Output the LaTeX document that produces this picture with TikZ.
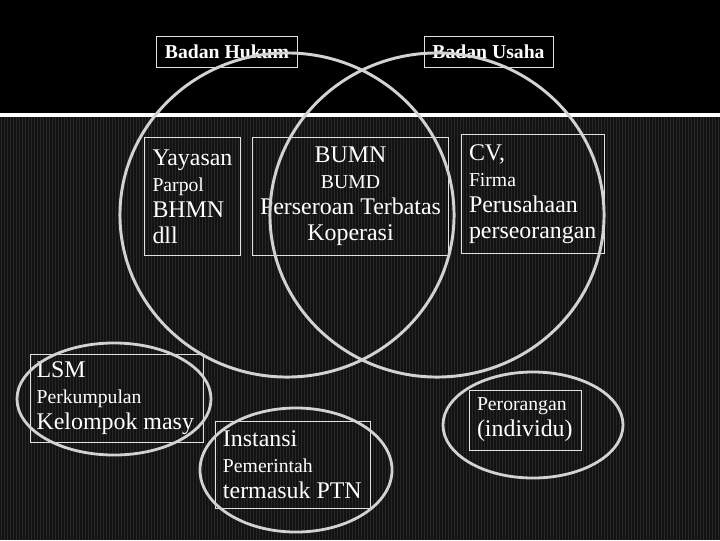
\documentclass[tikz,border=0pt]{standalone}
\usepackage{fontspec}
\setmainfont{Liberation Serif}
\usetikzlibrary{shapes.geometric}
\definecolor{linegray}{RGB}{210,210,210}
\definecolor{boxgray}{RGB}{225,225,225}
\definecolor{stripegray}{RGB}{18,18,18}
\definecolor{stripelight}{RGB}{38,38,38}
\newcommand{\bigtxt}{\fontsize{17}{18.5}\selectfont}
\newcommand{\smalltxt}{\fontsize{14}{18.5}\selectfont}

\begin{document}
\begin{tikzpicture}[x=0.025cm,y=-0.025cm,
	title_box/.style={rectangle,draw=boxgray,line width=0.7pt,text=white,font=\fontsize{14}{16}\selectfont\bfseries,minimum height=0.775cm,inner sep=0pt},
	item_box/.style={rectangle,draw=boxgray,line width=0.7pt,text=white,font=\bigtxt,align=flush left,inner xsep=3pt,inner ysep=0pt},
	big_circle/.style={ellipse,draw=linegray,line width=2.1pt,minimum width=8.35cm,minimum height=8.1cm,inner sep=0pt},
	small_oval/.style={ellipse,draw=linegray,line width=2pt,inner sep=0pt}]

		\useasboundingbox (0,0) rectangle (720,540);
		\fill[black] (0,0) rectangle (720,540);
		\fill[stripegray] (0,117) rectangle (720,540);
		\foreach \sx in {1,4,...,720}
			\draw[stripelight,line width=0.4pt] (\sx,117) -- (\sx,540);
		\fill[white] (0,113) rectangle (720,117);

		\node[title_box,minimum width=3.5cm] (hukum) at (227,51.5) {Badan Hukum};
		\node[title_box,minimum width=3.225cm] (usaha) at (488.5,51.5) {Badan Usaha};

		\node[item_box,text width=2.21cm,minimum height=2.925cm] (yayasan) at (192.5,196.5) {\hspace{3pt}Yayasan\\\hspace{3pt}{\smalltxt Parpol}\\\hspace{3pt}BHMN\\\hspace{3pt}dll};
		\node[item_box,text width=4.71cm,align=flush center,minimum height=2.925cm] (bumn) at (350.5,196.5) {BUMN\\{\smalltxt BUMD}\\Perseroan Terbatas\\Koperasi};
		\node[item_box,text width=3.34cm,minimum height=2.95cm] (cv) at (533,194) {\hspace{2pt}CV,\\\hspace{2pt}{\smalltxt Firma}\\\hspace{2pt}Perusahaan\\\hspace{2pt}perseorangan};
		\node[item_box,text width=4.09cm,minimum height=2.2cm] (lsm) at (117,398) {\hspace{1pt}LSM\\\hspace{1pt}{\smalltxt Perkumpulan}\\\hspace{1pt}Kelompok masy};
		\node[item_box,text width=3.64cm,minimum height=2.175cm] (instansi) at (293,464.5) {\hspace{2pt}Instansi\\\hspace{2pt}{\smalltxt Pemerintah}\\\hspace{2pt}termasuk PTN};
		\node[item_box,text width=2.565cm,minimum height=1.5cm] (perorangan) at (525.5,420) {\hspace{2pt}{\smalltxt Perorangan}\\\hspace{2pt}(individu)};

		\node[big_circle] (hukumcircle) at (287,215) {};
		\node[big_circle] (usahacircle) at (437,215) {};
		\node[small_oval,minimum width=4.85cm,minimum height=2.8cm] (lsmoval) at (114,399) {};
		\node[small_oval,minimum width=4.8cm,minimum height=3.1cm] (instansioval) at (296,470) {};
		\node[small_oval,minimum width=4.5cm,minimum height=2.65cm] (peroranganoval) at (533,425) {};
		\end{tikzpicture}
\end{document}
